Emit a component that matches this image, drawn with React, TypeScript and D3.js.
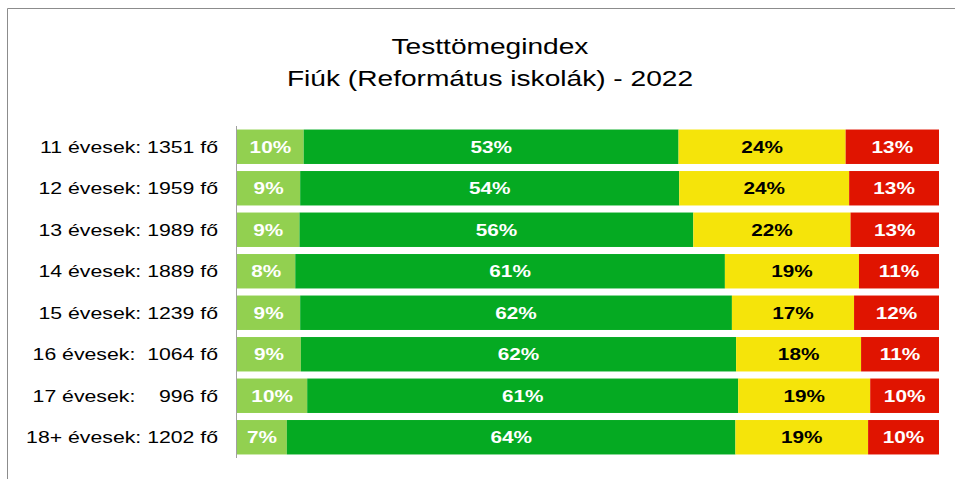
import * as d3 from "d3";
import React from "react";

const categories = [
  "11 évesek: 1351 fő",
  "12 évesek: 1959 fő",
  "13 évesek: 1989 fő",
  "14 évesek: 1889 fő",
  "15 évesek: 1239 fő",
  "16 évesek:  1064 fő",
  "17 évesek:    996 fő",
  "18+ évesek: 1202 fő",
];

const seriesNames = ["sovany", "normal", "tulsuly", "elhizott"];

const lightGreen = [9.5, 9.0, 8.9, 8.3, 9.0, 9.1, 10.0, 7.1];
const darkGreen = [53.4, 54.0, 56.1, 61.2, 61.5, 62.0, 61.4, 63.9];
const yellow = [23.8, 24.2, 22.4, 19.1, 17.4, 17.8, 18.8, 18.9];
const red = [13.3, 12.8, 12.6, 11.4, 12.1, 11.1, 9.8, 10.1];

const colors = ["#92d050", "#05aa22", "#f5e40a", "#e01400"];
const labelColors = ["#ffffff", "#ffffff", "#000000", "#ffffff"];

const W = 955;
const H = 479;
const font = "Liberation Sans, Arial, sans-serif";
// the reference text is a bit wider than plain Arial
const stretch = 1.25;

export default function App() {
  const rows = categories.map((c, i) => ({
    cat: c,
    sovany: lightGreen[i],
    normal: darkGreen[i],
    tulsuly: yellow[i],
    elhizott: red[i],
  }));

  const stack = d3.stack<any>().keys(seriesNames);
  const layers = stack(rows);

  const x = d3.scaleLinear().domain([0, 100]).range([237, 939]);
  const y = d3
    .scaleBand()
    .domain(categories)
    .range([126, 458])
    .paddingInner(0.17)
    .paddingOuter(0.085);

  const at = (px: number, py: number) =>
    `translate(${px},${py}) scale(${stretch},1)`;

  return (
    <svg
      width={W}
      height={H}
      style={{ position: "absolute", left: 0, top: 0, background: "#fff" }}
    >
      {/* frame */}
      <line x1={7.5} x2={W} y1={8.5} y2={8.5} stroke="#8c8c8c" />
      <line x1={7.5} x2={7.5} y1={8.5} y2={H} stroke="#8c8c8c" />

      <text
        transform={at(490, 54)}
        textAnchor="middle"
        fontFamily={font}
        fontSize={22.5}
        fill="#000"
      >
        Testtömegindex
      </text>
      <text
        transform={at(490, 86)}
        textAnchor="middle"
        fontFamily={font}
        fontSize={22.5}
        fill="#000"
      >
        Fiúk (Református iskolák) - 2022
      </text>

      {layers.map((layer, li) => (
        <g key={layer.key}>
          {layer.map((d, i) => {
            const x0 = x(d[0]);
            const x1 = x(d[1]);
            const yy = y(categories[i])!;
            const val = d[1] - d[0];
            return (
              <g key={i}>
                <rect
                  x={x0}
                  y={yy}
                  width={x1 - x0}
                  height={y.bandwidth()}
                  fill={colors[li]}
                />
                <text
                  transform={at((x0 + x1) / 2, yy + y.bandwidth() / 2)}
                  dy="0.36em"
                  textAnchor="middle"
                  fontFamily={font}
                  fontWeight="bold"
                  fontSize={16.6}
                  fill={labelColors[li]}
                >
                  {Math.round(val)}%
                </text>
              </g>
            );
          })}
        </g>
      ))}

      {/* category axis */}
      <line x1={236.5} x2={236.5} y1={126} y2={458} stroke="#a0a0a0" />
      {categories.map((c) => (
        <text
          key={c}
          transform={at(218, y(c)! + y.bandwidth() / 2)}
          dy="0.36em"
          textAnchor="end"
          fontFamily={font}
          fontSize={17}
          fill="#000"
          style={{ whiteSpace: "pre" }}
        >
          {c}
        </text>
      ))}
    </svg>
  );
}
